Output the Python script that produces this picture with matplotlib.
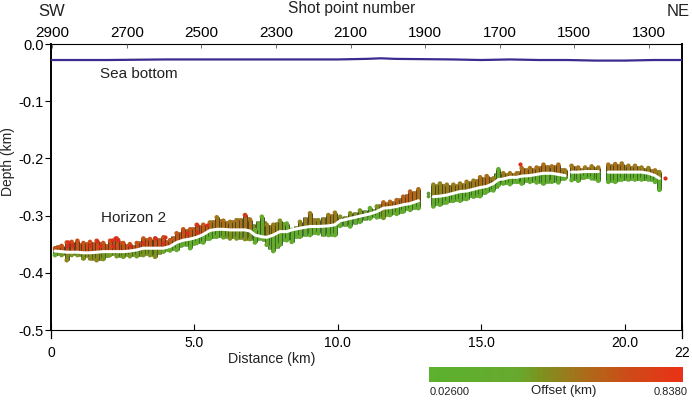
import numpy as np
import matplotlib
matplotlib.use('Agg')
import matplotlib.pyplot as plt
from matplotlib.colors import LinearSegmentedColormap

plt.rcParams['font.family'] = ['Liberation Sans', 'DejaVu Sans']

# sea bottom picked off the figure
sea_km = [0, 2, 4, 6, 8, 10, 11, 11.5, 12, 14, 15, 16, 17, 18, 19, 19.5, 20, 21, 22]
sea_depth = [-0.028, -0.028, -0.027, -0.027, -0.027, -0.027, -0.026, -0.025, -0.026, -0.027, -0.028,
             -0.027, -0.028, -0.028, -0.029, -0.029, -0.029, -0.028, -0.028]

# horizon 2, one entry per column of picks (nan = gap in the line)
col_km = [0.14, 0.37, 0.55, 0.72, 0.92, 1.13, 1.36, 1.59, 1.82, 2.06, 2.29, 2.52, 2.75, 2.99, 3.22, 3.45,
          3.63, 3.92, 4.15, 4.38, 4.61, 4.85, 5.08, 5.31, 5.54, 5.78, 6.01, 6.24, 6.47, 6.76, 6.94, 7.11,
          7.35, 7.52, 7.75, 7.98, 8.22, 8.39, 8.68, 9.03, 9.32, 9.67, 9.90, 10.08, 10.43, 10.77, 11.12,
          11.36, 11.59, 11.82, 12.05, 12.28, 12.52, 12.81, 13.16, 13.33, 13.56, 13.80, 14.03, 14.26, 14.49,
          14.73, 14.96, 15.19, 15.42, 15.60, 15.77, 16.00, 16.24, 16.41, 16.70, 16.93, 17.17, 17.46, 17.69,
          17.92, 18.03, 18.15, 18.38, 18.62, 18.85, 19.08, 19.26, 19.43, 19.67, 19.90, 20.13, 20.36, 20.59,
          20.83, 21.06, 21.21]
horizon = [.362, .363, .364, .364, .364, .365, .365, .364, .363, .363, .363, .363, .362, .360, .357, .357,
           .357, .357, .354, .347, .343, .341, .338, .333, .326, .324, .324, .325, .325, .325, .327, .334,
           .337, .338, .334, .328, .328, .325, .322, .319, .319, .318, .316, .309, .305, .301, .297,
           .293, .287, .286, .284, .281, .279, .274, np.nan, .267, .266, .264, .261, .258, .257,
           .254, .251, .249, .244, .237, .236, .233, .233, .231, .230, .228, .226, .226, .228,
           .230, np.nan, .224, .224, .223, .223, .223, np.nan, .224, .224, .224, .224, .224, .224,
           .226, .230, .235]
upper = [.357, .353, .347, .346, .344, .348, .346, .344, .348, .344, .340, .348, .350, .348, .340, .341,
         .340, .338, .343, .331, .324, .324, .316, .316, .312, .303, .309, .311, .308, .299, .307, .325,
         .302, .316, .316, .309, .314, .325, .311, .296, .308, .299, .295, .302, .296, .291, .287,
         .284, .277, .276, .273, .267, .258, .254, np.nan, .246, .244, .246, .246, .244, .241,
         .239, .233, .231, .235, .219, .226, .226, .226, .217, .217, .216, .211, .214, .211,
         .221, np.nan, .213, .216, .216, .214, .216, np.nan, .211, .210, .209, .213, .213, .216,
         .217, .221, .224]
lower = [.369, .369, .378, .369, .369, .375, .375, .378, .376, .369, .371, .372, .371, .371, .369, .369,
         .372, .363, .361, .360, .351, .357, .348, .347, .340, .337, .338, .340, .340, .341, .341, .347,
         .340, .351, .362, .351, .343, .346, .337, .334, .331, .334, .334, .318, .319, .311, .305,
         .303, .304, .299, .297, .293, .290, .287, np.nan, .284, .281, .277, .274, .274, .271,
         .267, .266, .258, .256, .247, .244, .245, .241, .244, .241, .242, .244, .241, .242,
         .235, np.nan, .238, .239, .233, .235, .239, np.nan, .241, .241, .237, .237, .237, .237,
         .237, .241, .255]
upper_offset = [.74, .76, .78, .78, .78, .76, .78, .78, .76, .78, .78, .76, .76, .76, .74, .76,
                .78, .76, .72, .74, .76, .72, .74, .72, .62, .58, .62, .58, .58, .60, .58, .30,
                .25, .52, .55, .45, .30, .25, .50, .55, .50, .55, .55, .45, .45, .42, .25,
                .45, .66, .66, .66, .68, .68, .62, .15, .50, .52, .55, .55, .55, .55,
                .55, .60, .62, .55, .18, .55, .58, .58, .62, .60, .60, .62, .60, .62,
                .55, .50, .58, .58, .56, .56, .56, .50, .58, .60, .58, .56, .56, .54,
                .54, .58, .50]
lower_offset = [.28, .42, .50, .42, .42, .46, .48, .50, .44, .40, .42, .40, .42, .40, .44, .44,
                .48, .36, .30, .28, .22, .24, .22, .22, .22, .28, .38, .44, .42, .46, .44, .18,
                .20, .34, .30, .30, .24, .18, .24, .26, .24, .24, .24, .18, .16, .16, .15,
                .20, .42, .28, .24, .22, .24, .20, .15, .24, .22, .22, .20, .18, .18,
                .18, .18, .15, .16, .15, .15, .14, .14, .15, .15, .15, .16, .15, .16,
                .14, .14, .16, .16, .15, .14, .15, .14, .15, .15, .14, .14, .14, .14,
                .12, .12, .10]

# extra picks between the columns above
fill_km = [0.25, 1.0, 1.25, 1.48, 1.7, 1.94, 2.17, 2.4, 2.63, 2.87, 3.1, 3.33, 3.54, 3.77, 4.03, 4.27, 4.5,
           4.73, 4.96, 5.2, 5.43, 5.66, 5.9, 6.12, 6.35, 6.6, 6.85, 7.03, 7.23, 7.43, 7.63, 7.87, 8.1, 8.53,
           8.85, 9.17, 9.5, 9.79, 10.25, 10.6, 10.95, 11.24, 11.47, 11.7, 11.93, 12.16, 12.4, 12.66, 13.45,
           13.68, 13.9, 14.15, 14.37, 14.6, 14.85, 15.08, 15.3, 15.5, 15.68, 15.88, 16.12, 16.33, 16.55,
           16.82, 17.05, 17.3, 17.57, 17.8, 18.27, 18.5, 18.73, 18.97, 19.55, 19.78, 20.02, 20.25, 20.47,
           20.7, 20.95]
fill_upper = [.352, .348, .346, .347, .346, .350, .342, .345, .349, .351, .344, .340, .342, .340, .342, .336, .328,
              .324, .320, .316, .314, .308, .306, .310, .308, .304, .302, .315, .310, .310, .316, .312, .312, .318,
              .303, .305, .303, .297, .300, .294, .290, .288, .280, .276, .275, .270, .262, .257, .245,
              .245, .246, .245, .243, .240, .236, .232, .233, .226, .223, .226, .226, .222, .217,
              .216, .213, .212, .212, .216, .214, .216, .215, .215, .210, .209, .211, .213, .214,
              .216, .219]
fill_lower = [.369, .370, .372, .377, .377, .372, .369, .372, .370, .370, .370, .369, .371, .368, .362, .360, .355,
              .353, .352, .348, .343, .340, .338, .339, .340, .341, .342, .343, .342, .345, .358, .356, .345, .340,
              .336, .333, .335, .335, .318, .314, .308, .303, .304, .300, .298, .296, .291, .288, .282,
              .280, .276, .275, .272, .268, .267, .262, .257, .252, .245, .245, .243, .243, .242,
              .242, .243, .243, .241, .238, .238, .236, .234, .237, .241, .240, .238, .237, .237,
              .237, .240]

# single dots that stick out of the cloud
dot_km = [2.23, 2.12, 2.35, 0.60, 1.59, 3.63, 3.97, 5.08, 6.76, 0.55, 0.72, 1.36, 1.71, 2.17, 2.75, 3.22,
          3.92, 4.73, 5.08, 5.43, 16.36, 21.41]
dot_depth = [.340, .342, .342, .346, .344, .340, .338, .316, .299, .354, .352, .352, .354, .354, .354, .348,
             .348, .331, .328, .316, .209, .235]
stray_km = [13.16, 13.16]
stray_depth = [.261, .266]

shot_ticks = [2900, 2700, 2500, 2300, 2100, 1900, 1700, 1500, 1300]
depth_ticks = [0.0, -0.1, -0.2, -0.3, -0.4, -0.5]
dist_ticks = [0, 5, 10, 15, 20, 22]
dist_labels = ['0', '5.0', '10.0', '15.0', '20.0', '22']

offset_min = 0.026
offset_max = 0.838

cmap = LinearSegmentedColormap.from_list('offset', [(0, '#5cb12f'), (.35, '#68a92e'), (.45, '#80901e'),
                                                    (.6, '#a8701a'), (.8, '#d04a18'), (1, '#e93316')])

col_km = np.array(col_km)
horizon = -np.array(horizon)
upper = -np.array(upper)
lower = -np.array(lower)
fill_km = np.array(fill_km)
fill_upper = -np.array(fill_upper)
fill_lower = -np.array(fill_lower)

# where the extra picks change from the upper to the lower colour
ok = ~np.isnan(horizon)
fill_mid = np.interp(fill_km, col_km[ok], horizon[ok])
fill_up_c = cmap(np.interp(fill_km, col_km, upper_offset))
fill_lo_c = cmap(np.interp(fill_km, col_km, lower_offset))

fig = plt.figure(figsize=(6.92, 4.0), dpi=100)
ax = fig.add_axes([51 / 692, 70 / 400, 631 / 692, 286 / 400])

# dark backing, then the coloured columns
ax.vlines(fill_km, fill_upper, fill_mid, color='#3c3a18', lw=3.4, zorder=2)
ax.vlines(fill_km, fill_mid, fill_lower, color='#2f5a20', lw=3.4, zorder=2)
ax.vlines(fill_km, fill_upper, fill_mid, colors=fill_up_c, lw=2.2, zorder=2.5)
ax.vlines(fill_km, fill_mid, fill_lower, colors=fill_lo_c, lw=2.2, zorder=2.5)
ax.vlines(col_km, upper, horizon, color='#3c3a18', lw=3.6, zorder=3)
ax.vlines(col_km, horizon, lower, color='#2f5a20', lw=3.6, zorder=3)
ax.vlines(col_km, upper, horizon, colors=cmap(upper_offset), lw=2.5, zorder=3.5)
ax.vlines(col_km, horizon, lower, colors=cmap(lower_offset), lw=2.5, zorder=3.5)
ax.scatter(col_km, upper, s=11, c=upper_offset, cmap=cmap, vmin=0, vmax=1, lw=0, zorder=4)
ax.scatter(col_km, lower, s=11, c=lower_offset, cmap=cmap, vmin=0, vmax=1, lw=0, zorder=4)
ax.scatter(dot_km, -np.array(dot_depth), s=9, color='#d8301c', lw=0, zorder=5)
ax.scatter(stray_km, -np.array(stray_depth), s=7, color='#5a9a30', lw=0, zorder=5)

ax.plot(col_km, horizon, color='white', lw=2.2, zorder=6, solid_capstyle='round')
ax.plot(sea_km, sea_depth, color='#3b2a8f', lw=1.6, zorder=6)

ax.set_xlim(0, 22)
ax.set_ylim(-0.5, 0)
ax.set_yticks(depth_ticks)
ax.set_yticklabels(['0.0', '-0.1', '-0.2', '-0.3', '-0.4', '-0.5'], fontsize=10.5)
ax.tick_params(axis='y', direction='out', length=4, width=0.8, pad=1)
ax.set_xticks(dist_ticks)
ax.set_xticklabels(dist_labels, fontsize=10)
ax.tick_params(axis='x', direction='in', length=4, width=0.8, pad=4)
for lab, tick in zip(ax.get_xticklabels(), dist_ticks):
    if tick in (0, 22):
        lab.set_y(-0.035)

ax.spines['left'].set_linewidth(1.4)
ax.spines['right'].set_linewidth(1.4)
ax.spines['top'].set_linewidth(0.8)
ax.spines['bottom'].set_linewidth(0.8)

# corners run a bit below the axis at 0 and 22
ax.plot([0, 0], [-0.5, -0.514], color='k', lw=0.9, clip_on=False)
ax.plot([22, 22], [-0.5, -0.514], color='k', lw=0.9, clip_on=False)

top = ax.twiny()
top.set_xlim(2903.5, 1211)
top.set_xticks(shot_ticks)
top.set_xticklabels([str(s) for s in shot_ticks], fontsize=11)
top.tick_params(axis='x', direction='in', length=3, width=0.6, pad=3, color='#555555')
for sp in top.spines.values():
    sp.set_visible(False)

ax.text(1.7, -0.052, 'Sea bottom', fontsize=11, va='center', color='#222222', zorder=7)
ax.text(1.75, -0.305, 'Horizon 2', fontsize=11, va='center', color='#222222', zorder=7)

fig.text(352 / 692, 1 - 8 / 400, 'Shot point number', fontsize=11.2, ha='center', va='center', color='#222222')
fig.text(38 / 692, 1 - 11 / 400, 'SW', fontsize=12, va='center', color='#222222')
fig.text(667 / 692, 1 - 11 / 400, 'NE', fontsize=12, va='center', color='#222222')
fig.text(8 / 692, 1 - 161.5 / 400, 'Depth (km)', fontsize=10, rotation=90, ha='center', va='center', color='#222222')
fig.text(272 / 692, 1 - 359 / 400, 'Distance (km)', fontsize=10.2, ha='center', va='center', color='#222222')

# colour bar
cax = fig.add_axes([429 / 692, 18 / 400, 254 / 692, 15 / 400])
cax.imshow(np.linspace(offset_min, offset_max, 40).reshape(1, -1), cmap=cmap, vmin=offset_min, vmax=offset_max,
           aspect='auto')
cax.axis('off')
fig.text(430 / 692, 1 - 392 / 400, '%.5f' % offset_min, fontsize=8, va='center', color='#222222')
fig.text(564 / 692, 1 - 391 / 400, 'Offset (km)', fontsize=9.5, ha='center', va='center', color='#222222')
fig.text(688 / 692, 1 - 392 / 400, '%.4f' % offset_max, fontsize=8, ha='right', va='center', color='#222222')

fig.savefig('out.png', dpi=100)
